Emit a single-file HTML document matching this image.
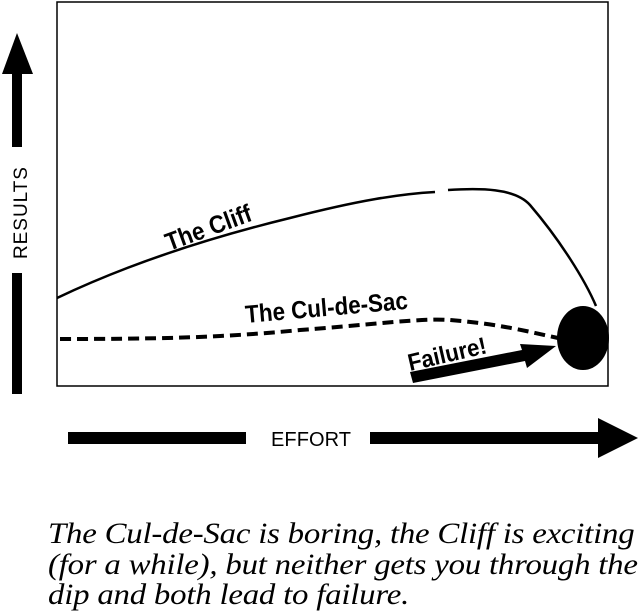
<!DOCTYPE html>
<html><head><meta charset="utf-8">
<style>
html,body{margin:0;padding:0;background:#fff;}
svg{display:block;position:absolute;left:0;top:0;}
.cap{position:absolute;left:48px;top:519px;font-family:"Liberation Serif","Times New Roman",serif;font-style:italic;font-size:30px;line-height:30.5px;white-space:nowrap;color:#000;letter-spacing:-0.2px;transform:scaleX(1.095);transform-origin:0 0;}
</style></head><body>
<svg width="640" height="612" viewBox="0 0 640 612" xmlns="http://www.w3.org/2000/svg">
<rect x="57" y="2" width="551" height="384" fill="none" stroke="#000" stroke-width="1.5"/>
<polygon points="17,33 2,74 33,74" fill="#000"/>
<rect x="12" y="72" width="10" height="75" fill="#000"/>
<text style="font-family:'Liberation Sans',sans-serif;font-size:19px" transform="translate(27,259) rotate(-90)" textLength="92" lengthAdjust="spacing" fill="#000">RESULTS</text>
<rect x="12" y="273" width="10" height="121" fill="#000"/>
<rect x="68" y="432" width="178" height="12" fill="#000"/>
<text style="font-family:'Liberation Sans',sans-serif;font-size:20px" x="271" y="446" textLength="80" lengthAdjust="spacing" fill="#000">EFFORT</text>
<rect x="370" y="432" width="230" height="12" fill="#000"/>
<polygon points="598,418 638,438 598,458" fill="#000"/>
<path d="M57,298 C120,268 200,240 290,218 C360,200 400,194 435,192" fill="none" stroke="#000" stroke-width="2.5"/>
<path d="M448,190 C480,188 515,188 530,205 C560,240 585,280 596,306" fill="none" stroke="#000" stroke-width="2.5"/>
<path d="M60,339 C150,339 220,338 300,330 C380,324 420,318 450,320 C500,324 530,332 558,338" fill="none" stroke="#000" stroke-width="4" stroke-dasharray="11,6"/>
<ellipse cx="583" cy="338" rx="26" ry="32" fill="#000"/>
<polygon points="410,372 522,350 520,344 556,346 527,368 525,361 413,383" fill="#000"/>
<text style="font-family:'Liberation Sans',sans-serif;font-weight:bold;font-size:24px" transform="translate(410,371) rotate(-13)" textLength="80" lengthAdjust="spacingAndGlyphs" fill="#000">Failure!</text>
<text style="font-family:'Liberation Sans',sans-serif;font-weight:bold;font-size:25px" transform="translate(169,251) rotate(-20)" textLength="90" lengthAdjust="spacingAndGlyphs" fill="#000">The Cliff</text>
<text style="font-family:'Liberation Sans',sans-serif;font-weight:bold;font-size:25px" transform="translate(246,323) rotate(-5)" textLength="163" lengthAdjust="spacingAndGlyphs" fill="#000">The Cul-de-Sac</text>
</svg>
<div class="cap">The Cul-de-Sac is boring, the Cliff is exciting<br>(for a while), but neither gets you through the<br>dip and both lead to failure.</div>
</body></html>
